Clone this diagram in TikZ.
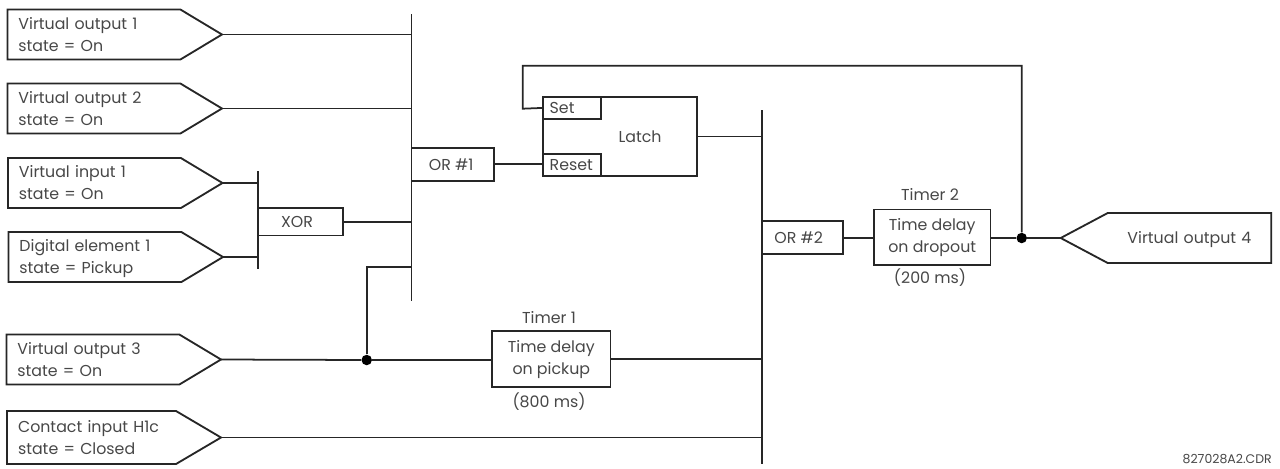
\documentclass[tikz,border=0pt]{standalone}
\usepackage{fontspec}
\setmainfont{Poppins}
\usetikzlibrary{shapes.symbols}
\tikzset{
  wire/.style={line width=1pt,black!85},
  label/.style={font=\fontsize{9}{12.5}\selectfont,text=black!72,align=center,inner sep=0pt},
  inbox/.style={draw=black!85,line width=1.05pt,shape=signal,signal to=east,signal from=nowhere,signal pointer angle=62,
    minimum height=1cm,inner xsep=0.22cm,inner ysep=0pt,outer sep=0pt,text width=3.02cm,align=left,
    font=\fontsize{9}{12.5}\selectfont,text=black!72,
    execute at begin node={\rule{0pt}{9.2pt}},execute at end node={\rule[-2.5pt]{0pt}{2.5pt}}},
  gatebox/.style={draw=black!85,line width=1.05pt,inner sep=0pt,outer sep=0pt,align=center,
    font=\fontsize{9}{12.5}\selectfont,text=black!72},
  portbox/.style={gatebox,inner xsep=0.14cm,text width=0.88cm,align=left,minimum height=0.45cm}
}
\tikzset{junction/.style={circle,fill=black,inner sep=0pt,minimum size=0.21cm}}
\begin{document}
\begin{tikzpicture}[x=0.02cm,y=-0.02cm]
\useasboundingbox (0,0) rectangle (1280,468);
\node[inbox,anchor=east] (vo1) at (222,34.5) {Virtual output 1\\state = On};
\node[inbox,anchor=east] (vo2) at (222,108.5) {Virtual output 2\\state = On};
\node[inbox,anchor=east] (vi1) at (222.5,183) {Virtual input 1\\state = On};
\node[inbox,anchor=east] (de1) at (223,257) {Digital element 1\\state = Pickup};
\node[inbox,anchor=east] (vo3) at (221,359.5) {Virtual output 3\\state = On};
\node[inbox,anchor=east,minimum height=1.06cm,signal pointer angle=61,text width=2.94cm] (ci1) at (221,437.5) {Contact input H1c\\state = Closed};
\node[inbox,signal to=west,anchor=west,signal pointer angle=56,text width=2.87cm,inner xsep=0.2cm,align=center] (vo4) at (1060.7,238) {Virtual output 4};
\coordinate (bus1t) at (411.5,14);
\coordinate (bus1b) at (411.5,300.5);
\coordinate (busxt) at (258,171);
\coordinate (busxb) at (258,269);
\coordinate (bus2t) at (761.7,110);
\coordinate (bus2b) at (761.7,464);
\draw[wire] (bus1t) -- (bus1b);
\draw[wire] (busxt) -- (busxb);
\draw[wire] (bus2t) -- (bus2b);
\node[gatebox,minimum width=1.7cm,minimum height=0.55cm] (xor) at (300.5,221.7) {\hspace{-0.14cm}XOR};
\node[gatebox,minimum width=1.65cm,minimum height=0.66cm] (or1) at (452.7,164.2) {\hspace{-0.06cm}OR \#1};
\node[gatebox,minimum width=3.09cm,minimum height=1.59cm] (latch) at (620,136.5) {\hspace{0.8cm}Latch};
\node[portbox] (set) at (571.7,107.9) {Set};
\node[portbox] (reset) at (571.7,165.1) {Reset};
\node[gatebox,minimum width=1.62cm,minimum height=0.66cm] (or2) at (802.2,237.8) {\hspace{-0.14cm}OR \#2};
\node[gatebox,minimum width=2.37cm,minimum height=1.12cm] (tm1) at (551.3,359.3) {Time delay\\on pickup};
\node[gatebox,minimum width=2.33cm,minimum height=1.11cm] (tm2) at (932.2,237.2) {Time delay\\on dropout};
\node[label] (tm1name) at (549,317.7) {Timer 1};
\node[label] (tm1time) at (549,402) {(800 ms)};
\node[label] (tm2name) at (930,195) {Timer 2};
\node[label] (tm2time) at (930,278) {(200 ms)};
\node[label,anchor=east,font=\fontsize{7.1}{8}\selectfont] (code) at (1272,459) {827028A2.CDR};
\node[junction] (dot1) at (366.7,360) {};
\node[junction] (dot2) at (1021.7,238) {};
\draw[wire] (vo1.east) -- (vo1.east -| bus1t);
\draw[wire] (vo2.east) -- (vo2.east -| bus1t);
\draw[wire] (vi1.east) -- (vi1.east -| busxt);
\draw[wire] (de1.east) -- (de1.east -| busxt);
\draw[wire] (xor.east) -- (xor.east -| bus1t);
\draw[wire] (or1.east) -- (or1.east -| reset.west);
\draw[wire] (vo3.east) -- (dot1);
\draw[wire] (dot1) -- (dot1 -| tm1.west);
\draw[wire] (dot1) -- (366.7,266.7) -- (411.5,266.7);
\draw[wire] (tm1.east) -- (tm1.east -| bus2t);
\draw[wire] (ci1.east) -- (ci1.east -| bus2t);
\draw[wire] (latch.east) -- (latch.east -| bus2t);
\draw[wire] (or2.east) -- (or2.east -| tm2.west);
\draw[wire] (dot2 -| tm2.east) -- (dot2);
\draw[wire] (dot2) -- (vo4.west);
\draw[wire] (dot2) -- (1021.7,65.7) -- (522.7,65.7) -- (522.7,108.7) -- (set.west);
\end{tikzpicture}
\end{document}
